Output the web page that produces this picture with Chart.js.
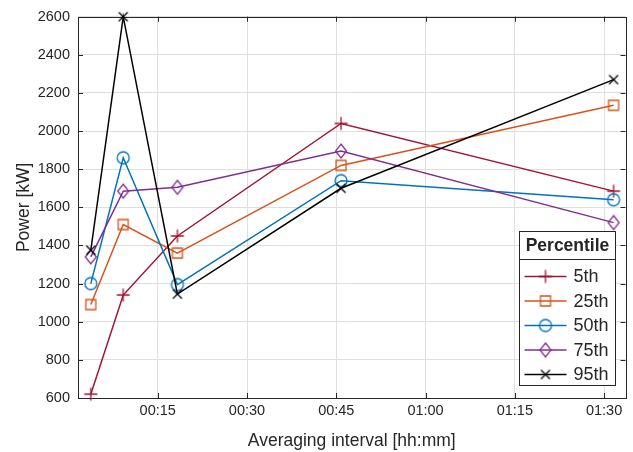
<!DOCTYPE html>
<html>
<head>
<meta charset="utf-8">
<script src="https://cdn.jsdelivr.net/npm/chart.js@4.4.1/dist/chart.umd.min.js"></script>
<style>
  html, body { margin: 0; padding: 0; background: #fff; }
</style>
</head>
<body>
<canvas id="chart" width="633" height="452"></canvas>
<script>
// Data (averaging interval in minutes, power in kW)
const intervals = [3.75, 9.2, 18.3, 45.8, 91.6];
const percentiles = ['5th', '25th', '50th', '75th', '95th'];
const p5 = [620, 1140, 1450, 2040, 1685];
const p25 = [1090, 1510, 1360, 1820, 2135];
const p50 = [1200, 1860, 1195, 1740, 1640];
const p75 = [1340, 1685, 1705, 1895, 1520];
const p95 = [1375, 2600, 1145, 1700, 2270];
const xTicks = [15, 30, 45, 60, 75, 90];
const yTicks = [600, 800, 1000, 1200, 1400, 1600, 1800, 2000, 2200, 2400, 2600];

const series = [p5, p25, p50, p75, p95];
const colors = ['#A2142F', '#D95319', '#0072BD', '#7E2F8E', '#000000'];
const markers = ['plus', 'square', 'circle', 'diamond', 'x'];
const axisColor = '#262626';
const fontFamily = '"Liberation Sans", Arial, sans-serif';

// Small offscreen canvases used as point styles (MATLAB-like markers)
function makeMarker(kind, color) {
    const c = document.createElement('canvas');
    c.width = 18; c.height = 18;
    const g = c.getContext('2d');
    const m = 9;
    g.strokeStyle = color;
    g.lineWidth = 1.3;
    g.beginPath();
    if (kind === 'plus') {
        g.moveTo(m - 6.5, m); g.lineTo(m + 6.5, m);
        g.moveTo(m, m - 6.5); g.lineTo(m, m + 6.5);
    } else if (kind === 'square') {
        g.rect(m - 5, m - 5, 10, 10);
    } else if (kind === 'circle') {
        g.arc(m, m, 6, 0, Math.PI * 2);
    } else if (kind === 'diamond') {
        g.moveTo(m, m - 7); g.lineTo(m + 5.5, m);
        g.lineTo(m, m + 7); g.lineTo(m - 5.5, m);
        g.closePath();
    } else {
        g.moveTo(m - 4.5, m - 4.5); g.lineTo(m + 4.5, m + 4.5);
        g.moveTo(m + 4.5, m - 4.5); g.lineTo(m - 4.5, m + 4.5);
    }
    g.stroke();
    return c;
}
const markerImgs = markers.map((k, i) => makeMarker(k, colors[i]));

function fmtTime(v) {
    const h = Math.floor(v / 60), m = Math.round(v % 60);
    return String(h).padStart(2, '0') + ':' + String(m).padStart(2, '0');
}

// Box around the axes plus inward tick marks
const boxPlugin = {
    id: 'box',
    beforeDatasetsDraw(chart) {
        const { ctx, chartArea: a, scales } = chart;
        ctx.save();
        ctx.strokeStyle = axisColor;
        ctx.lineWidth = 1;
        ctx.beginPath();
        scales.x.ticks.forEach(t => {
            const px = Math.round(scales.x.getPixelForValue(t.value)) + 0.5;
            ctx.moveTo(px, a.bottom); ctx.lineTo(px, a.bottom - 5);
            ctx.moveTo(px, a.top); ctx.lineTo(px, a.top + 5);
        });
        scales.y.ticks.forEach(t => {
            const py = Math.round(scales.y.getPixelForValue(t.value)) + 0.5;
            ctx.moveTo(a.left, py); ctx.lineTo(a.left + 5, py);
            ctx.moveTo(a.right, py); ctx.lineTo(a.right - 5, py);
        });
        ctx.stroke();
        ctx.strokeRect(Math.round(a.left) + 0.5, Math.round(a.top) + 0.5,
            Math.round(a.right - a.left), Math.round(a.bottom - a.top));
        ctx.restore();
    }
};

// Legend box with title, bottom-right inside the axes
const legendPlugin = {
    id: 'matlabLegend',
    afterDraw(chart) {
        const { ctx, chartArea: a } = chart;
        const right = Math.round(a.right - 11) + 0.5;
        const bottom = Math.round(a.bottom - 13) + 0.5;
        const left = right - 96;
        const top = bottom - 154;
        const sep = top + 28;
        ctx.save();
        ctx.fillStyle = '#fff';
        ctx.fillRect(left, top, right - left, bottom - top);
        ctx.strokeStyle = axisColor;
        ctx.lineWidth = 1;
        ctx.strokeRect(left, top, right - left, bottom - top);
        ctx.beginPath();
        ctx.moveTo(left, sep); ctx.lineTo(right, sep);
        ctx.stroke();
        ctx.fillStyle = axisColor;
        ctx.textBaseline = 'middle';
        ctx.textAlign = 'center';
        ctx.font = 'bold 17.5px ' + fontFamily;
        ctx.fillText('Percentile', (left + right) / 2, top + 15);
        ctx.textAlign = 'left';
        ctx.font = '18px ' + fontFamily;
        chart.data.datasets.forEach((ds, i) => {
            const y = sep + 17 + i * 24.5;
            ctx.strokeStyle = ds.borderColor;
            ctx.lineWidth = 1.5;
            ctx.beginPath();
            ctx.moveTo(left + 5, y); ctx.lineTo(left + 47, y);
            ctx.stroke();
            ctx.drawImage(markerImgs[i], left + 26 - 9, y - 9);
            ctx.fillStyle = axisColor;
            ctx.fillText(ds.label, left + 54, y + 1);
        });
        ctx.restore();
    }
};

const datasets = series.map((vals, i) => ({
    label: percentiles[i],
    data: vals.map((v, j) => ({ x: intervals[j], y: v })),
    borderColor: colors[i],
    backgroundColor: colors[i],
    borderWidth: 1.5,
    pointStyle: markerImgs[i],
    pointRadius: 6,
    clip: false,
    order: series.length - 1 - i
}));

new Chart(document.getElementById('chart'), {
    type: 'line',
    data: { datasets: datasets },
    options: {
        responsive: false,
        animation: false,
        layout: { padding: { top: 14, right: 7, left: 0, bottom: 0 } },
        plugins: { legend: { display: false }, tooltip: { enabled: false } },
        scales: {
            x: {
                type: 'linear',
                min: 1.6,
                max: 93.6,
                afterBuildTicks: scale => { scale.ticks = xTicks.map(v => ({ value: v })); },
                afterFit: scale => { scale.height = 54; },
                grid: { color: '#dfdfdf', drawTicks: false },
                border: { display: false },
                ticks: {
                    padding: 4,
                    color: axisColor,
                    font: { family: fontFamily, size: 14.5 },
                    maxRotation: 0,
                    callback: v => fmtTime(v)
                },
                title: {
                    display: true,
                    text: 'Averaging interval [hh:mm]',
                    color: axisColor,
                    font: { family: fontFamily, size: 17.5 },
                    padding: { top: 0, bottom: 0 }
                }
            },
            y: {
                min: 600,
                max: 2600,
                afterBuildTicks: scale => { scale.ticks = yTicks.map(v => ({ value: v })); },
                afterFit: scale => { scale.width = 78; },
                grid: { color: '#dfdfdf', drawTicks: false },
                border: { display: false },
                ticks: {
                    padding: 8,
                    color: axisColor,
                    font: { family: fontFamily, size: 14.5 },
                    callback: v => String(v)
                },
                title: {
                    display: true,
                    text: 'Power [kW]',
                    color: axisColor,
                    font: { family: fontFamily, size: 17.5 },
                    padding: { top: 14, bottom: 0 }
                }
            }
        }
    },
    plugins: [boxPlugin, legendPlugin]
});
</script>
</body>
</html>
